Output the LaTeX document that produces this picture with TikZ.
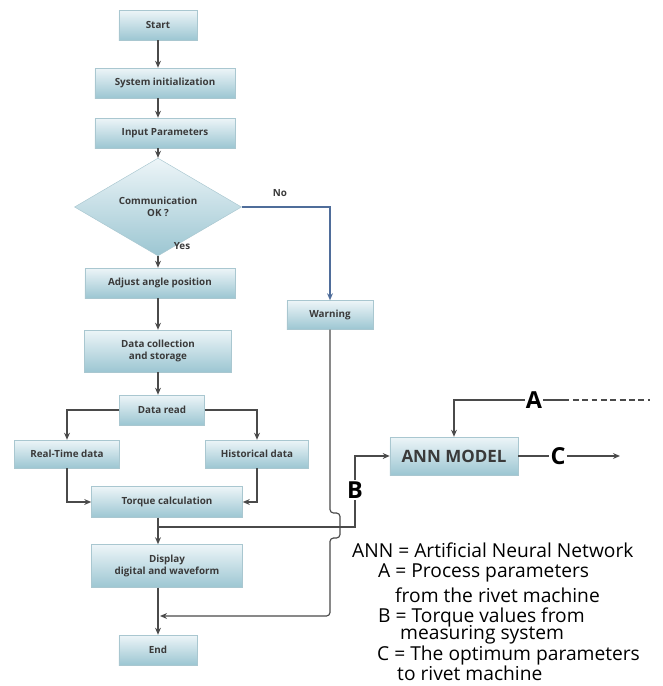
\documentclass[tikz,border=0pt]{standalone}
\usepackage{fontspec}
\setmainfont{Open Sans}
\usepackage{tikz}
\usetikzlibrary{shapes.geometric, arrows.meta, positioning, calc}

\definecolor{boxtop}{HTML}{EDF5F8}
\definecolor{boxbot}{HTML}{9CC6D2}
\definecolor{boxedge}{HTML}{A9C7D0}
\definecolor{linegray}{HTML}{4A4A4A}
\definecolor{nolink}{HTML}{4F6D9A}
\definecolor{txtgray}{HTML}{3A3A3A}

\newcommand{\boxfnt}{\fontsize{8.4}{10}\selectfont\bfseries}
\newcommand{\legfnt}{\fontsize{16.4}{18}\selectfont}

\begin{document}
\begin{tikzpicture}[
        x=0.03cm, y=-0.03cm,
        box/.style={rectangle, top color=boxtop, bottom color=boxbot, draw=boxedge, line width=0.4pt, minimum width=4.2cm, minimum height=0.9cm, align=center, font=\boxfnt, text=txtgray, inner sep=1pt},
        decide/.style={diamond, top color=boxtop, bottom color=boxbot, draw=boxedge, line width=0.4pt, minimum width=5.01cm, minimum height=1.89cm, inner sep=0pt, align=center, font=\boxfnt, text=txtgray},
        arr/.style={-{Stealth[length=6pt,width=5pt]}, line width=1pt, linegray},
        lnk/.style={line width=1pt, linegray},
        lbl/.style={font=\boxfnt, text=txtgray},
        letter/.style={font=\fontsize{20}{22}\selectfont\bfseries, text=black, inner sep=1pt},
        legend/.style={font=\legfnt, text=black, anchor=west, inner sep=0pt}
    ]
        \useasboundingbox (0,0) rectangle (663,686);

        % main column
        \node[box, minimum width=2.34cm] (start) at (158,25) {Start};
        \node[box] (sys) at (165,83) {System initialization};
        \node[box] (input) at (165,133) {Input Parameters};
        \node[decide] (comm) at (158,207) {Communication\\OK ?};
        \node[box, minimum width=4.5cm] (adjust) at (160,283) {Adjust angle position};
        \node[box, minimum width=4.41cm, minimum height=1.26cm] (collect) at (158,351) {Data collection\\and storage};
        \node[box, minimum width=2.55cm] (read) at (162,410) {Data read};
        \node[box, minimum width=3.15cm, minimum height=0.84cm] (rt) at (67,454) {Real-Time data};
        \node[box, minimum width=3.09cm, minimum height=0.84cm] (hist) at (257,454) {Historical data};
        \node[box, minimum width=4.53cm, minimum height=0.93cm] (torque) at (167,502) {Torque calculation};
        \node[box, minimum width=4.53cm, minimum height=1.29cm] (disp) at (167,566) {Display\\digital and waveform};
        \node[box, minimum width=2.34cm] (endn) at (158,650) {End};
        \node[box, minimum width=2.58cm, minimum height=0.87cm] (warn) at (330,315) {Warning};

        % ANN block
        \node[box, minimum width=3.84cm, minimum height=1.14cm, font=\fontsize{14.5}{16}\selectfont\bfseries] (ann) at (454,456) {ANN MODEL};
        \node[letter] (lblA) at (534,400) {A};
        \node[letter] (lblB) at (355,490) {B};
        \node[letter] (lblC) at (558,456) {C};

        \node[lbl] (no) at (280,193) {No};
        \node[lbl] (yes) at (182,246) {Yes};

        % flowchart arrows
        \draw[arr] (start) -- (sys.north -| start);
        \draw[arr] (sys.south -| start) -- (input.north -| start);
        \draw[arr] (input.south -| start) -- (comm.north);
        \draw[arr] (comm.south) -- (adjust.north -| comm);
        \draw[arr] (adjust.south -| comm) -- (collect.north -| comm);
        \draw[arr] (collect.south -| comm) -- (read.north -| comm);
        \draw[arr] (read.west) -| (rt.north);
        \draw[arr] (read.east) -| (hist.north);
        \draw[arr] (rt.south) |- (torque.west);
        \draw[arr] (hist.south) |- (torque.east);
        \draw[arr] (torque.south -| comm) -- (disp.north -| comm);
        \draw[arr] (disp.south -| comm) -- (endn.north -| comm);
        \draw[arr, nolink] (comm.east) -| (warn.north);

        % torque values to B
        \coordinate (split) at (158,527);
        \draw[lnk] (split) -| (lblB.south);
        \draw[arr] (lblB.north) |- (ann.west);

        % warning back to end, hopping over the B line
        \coordinate (hopin) at (330,513);
        \coordinate (hopout) at (330,538);
        \coordinate (merge) at (160,616);
        \draw[arr, rounded corners=3pt] (warn.south) -- (hopin) -- ++(10,0) -- ++(0,25) -- (hopout) |- (merge);

        % ANN inputs and output
        \coordinate (aend) at (650,400);
        \coordinate (cend) at (620,456);
        \draw[arr] (lblA.west) -| (ann.north);
        \draw[lnk] (lblA.east) -- ++(20,0) coordinate (adash);
        \draw[lnk, dash pattern=on 5pt off 3pt] (adash) -- (aend);
        \draw[lnk] (ann.east) -- (lblC.west);
        \draw[arr] (lblC.east) -- (cend);

        % legend
        \node[legend] (lgann) at (352,550) {ANN = Artificial Neural Network};
        \node[legend] (lga) at (378,573) {A = Process parameters};
        \node[legend] (lga2) at (395,595) {from the rivet machine};
        \node[legend] (lgb) at (378,617) {B = Torque values from};
        \node[legend] (lgb2) at (400,635) {measuring system};
        \node[legend] (lgc) at (377,655) {C = The optimum parameters};
        \node[legend] (lgc2) at (397,673) {to rivet machine};
\end{tikzpicture}
\end{document}
